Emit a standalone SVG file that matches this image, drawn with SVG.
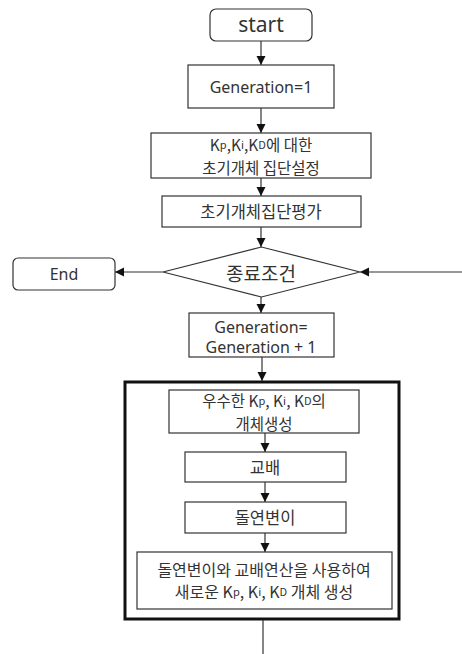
<svg xmlns="http://www.w3.org/2000/svg" width="462" height="654" viewBox="0 0 462 654">
<defs>
<marker id="arr" markerUnits="userSpaceOnUse" markerWidth="10" markerHeight="10" refX="9" refY="5" orient="auto">
<path d="M0,0.5 L9,5 L0,9.5 Z" fill="#111"/>
</marker>
<style>
.box{fill:#fff;stroke:#333;stroke-width:1.2}
.big{fill:none;stroke:#111;stroke-width:3}
.t{font-family:"Noto Sans","Noto Sans CJK KR",sans-serif;font-size:16px;fill:#333;text-anchor:middle;dominant-baseline:central}
.k{font-family:"Noto Sans CJK KR","Noto Sans",sans-serif;font-size:16.5px;fill:#333;text-anchor:middle;dominant-baseline:central}
.s{font-size:11px}
.c{stroke:#333;stroke-width:1.2;fill:none}
</style>
</defs>
<rect width="462" height="654" fill="#fff"/>
<g id="loop">
<rect class="big" x="125" y="382" width="274" height="237"/>
</g>
<g id="connectors">
<line class="c" x1="261" y1="41" x2="261" y2="65" marker-end="url(#arr)"/>
<line class="c" x1="261" y1="108" x2="261" y2="133" marker-end="url(#arr)"/>
<line class="c" x1="261" y1="178" x2="261" y2="196" marker-end="url(#arr)"/>
<line class="c" x1="261" y1="227" x2="261" y2="247" marker-end="url(#arr)"/>
<line class="c" x1="163" y1="272" x2="115" y2="272" marker-end="url(#arr)"/>
<line class="c" x1="462" y1="272" x2="360" y2="272" marker-end="url(#arr)"/>
<line class="c" x1="261" y1="297" x2="261" y2="313" marker-end="url(#arr)"/>
<line class="c" x1="262" y1="357" x2="262" y2="381" marker-end="url(#arr)"/>
<line class="c" x1="265" y1="433" x2="265" y2="452" marker-end="url(#arr)"/>
<line class="c" x1="265" y1="482" x2="265" y2="502" marker-end="url(#arr)"/>
<line class="c" x1="265" y1="533" x2="265" y2="552" marker-end="url(#arr)"/>
<line class="c" x1="263" y1="620" x2="263" y2="654"/>
</g>
<g id="start">
<rect class="box" x="210" y="9" width="102" height="32" rx="6"/>
<text class="t" x="261" y="24" style="font-size:21px">start</text>
</g>
<g id="gen1">
<rect class="box" x="188" y="65" width="146" height="43"/>
<text class="t" x="261" y="87">Generation=1</text>
</g>
<g id="init">
<rect class="box" x="151" y="133" width="220" height="45"/>
<text class="k" x="261" y="144" style="font-size:15.5px">K<tspan class="s">p</tspan>,K<tspan class="s">i</tspan>,K<tspan class="s">D</tspan>에 대한<tspan x="261" dy="23">초기개체 집단설정</tspan></text>
</g>
<g id="eval">
<rect class="box" x="162" y="196" width="199" height="31"/>
<text class="k" x="261" y="211">초기개체집단평가</text>
</g>
<g id="cond">
<polygon class="box" points="163,272 261.5,247 360,272 261.5,297"/>
<text class="k" x="261" y="272" style="font-size:19px">종료조건</text>
</g>
<g id="end">
<rect class="box" x="13" y="258" width="102" height="32" rx="5"/>
<text class="t" x="64" y="274" style="font-size:16px">End</text>
</g>
<g id="geninc">
<rect class="box" x="189" y="313" width="145" height="44"/>
<text class="t" x="261" y="327">Generation=<tspan x="261" dy="20">Generation + 1</tspan></text>
</g>
<g id="select">
<rect class="box" x="169" y="390" width="190" height="43"/>
<text class="k" x="264" y="400" style="font-size:15.5px">우수한 K<tspan class="s">p</tspan>, K<tspan class="s">i</tspan>, K<tspan class="s">D</tspan>의<tspan x="264" dy="23">개체생성</tspan></text>
</g>
<g id="cross">
<rect class="box" x="185" y="452" width="161" height="30"/>
<text class="k" x="265" y="467">교배</text>
</g>
<g id="mutate">
<rect class="box" x="185" y="502" width="161" height="31"/>
<text class="k" x="265" y="517">돌연변이</text>
</g>
<g id="newgen">
<rect class="box" x="137" y="552" width="255" height="57"/>
<text class="k" x="264" y="569" style="font-size:16px">돌연변이와 교배연산을 사용하여<tspan x="264" dy="22">새로운 K<tspan class="s">p</tspan>, K<tspan class="s">i</tspan>, K<tspan class="s">D</tspan> 개체 생성</tspan></text>
</g>
</svg>
